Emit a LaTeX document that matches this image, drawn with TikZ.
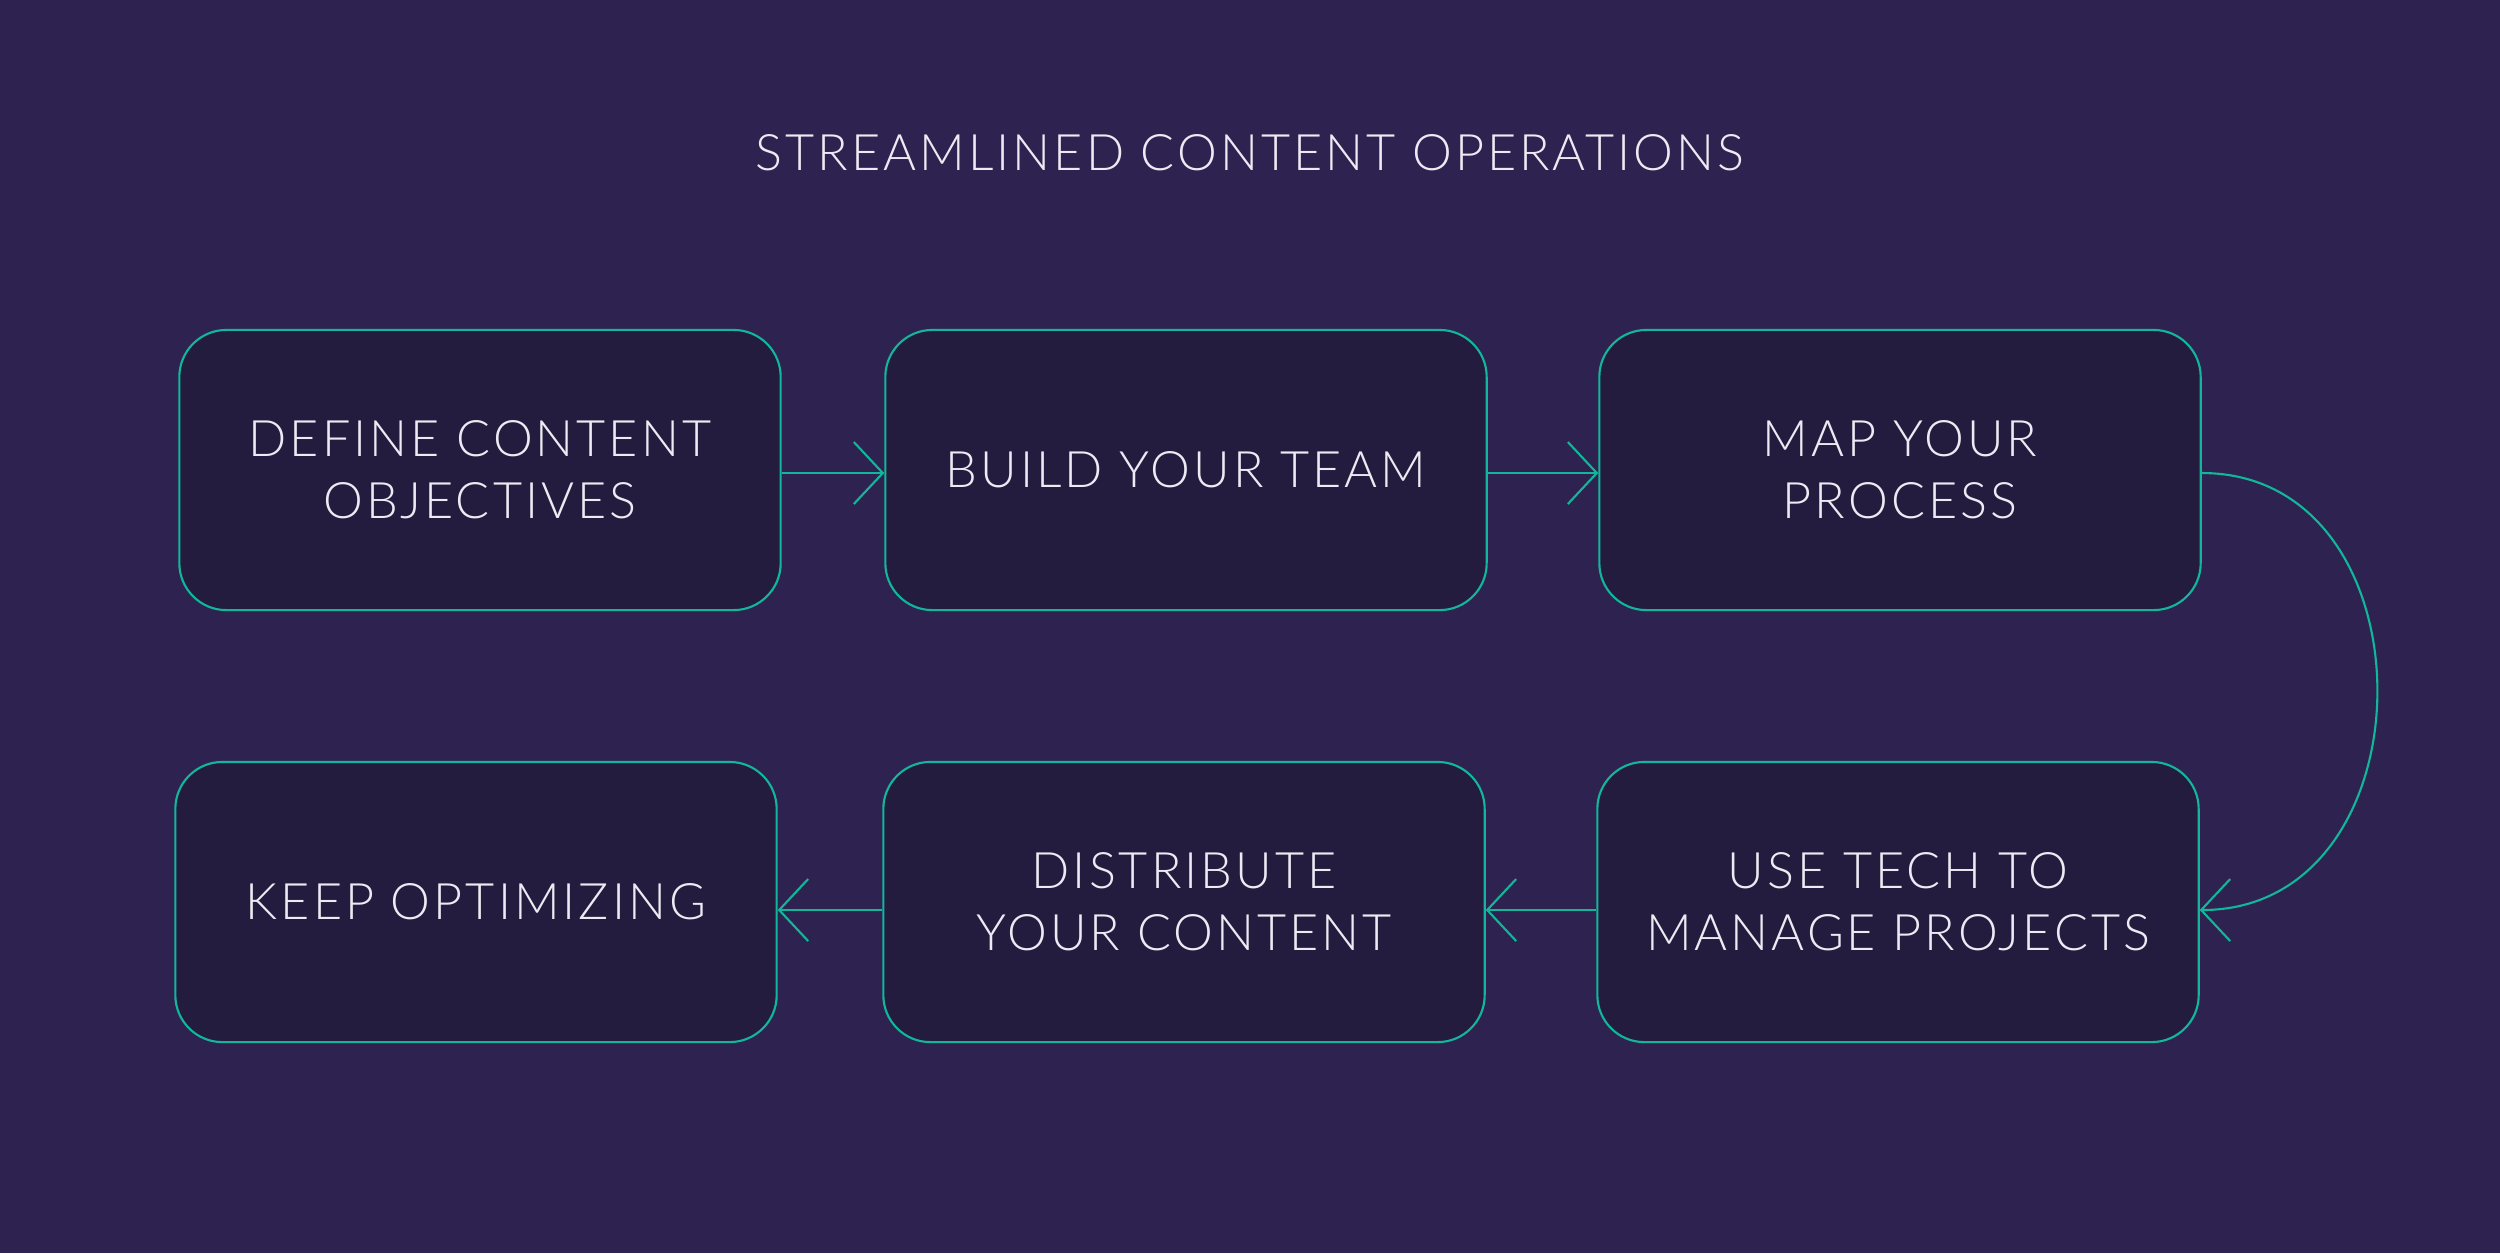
\documentclass[tikz,border=0pt]{standalone}
\usepackage{fontspec}
\newfontfamily\stagefont{Lato Light}[LetterSpace=6]
\usepackage{tikz}
\usetikzlibrary{positioning, arrows.meta}
\definecolor{bgcol}{HTML}{2E2350}
\definecolor{boxcol}{HTML}{241C3E}
\definecolor{linecol}{HTML}{12B69A}
\definecolor{txtcol}{HTML}{EEEAF3}
\tikzset{stage/.style = {rectangle, draw=linecol, fill=boxcol, line width=0.6pt, rounded corners=0.47cm,
                         minimum width=6.01cm, minimum height=2.8cm, align=center, text=txtcol,
                         font=\stagefont\fontsize{14.3}{17.6}\selectfont},
         flow/.style = {draw=linecol, line width=0.6pt, -{Straight Barb[length=0.29cm, width=0.62cm]}}}

\begin{document}
\begin{tikzpicture}[x=0.01cm, y=-0.01cm]
        \fill[bgcol] (0,0) rectangle (2500,1253);
        \useasboundingbox (0,0) rectangle (2500,1253);

        \node [text=txtcol, font=\stagefont\fontsize{14.3}{17.6}\selectfont] (title) at (1250,153) {STREAMLINED CONTENT OPERATIONS};

        \begin{scope}
            \node [stage] (objectives) at ( 480,470) {DEFINE CONTENT\\OBJECTIVES};
            \node [stage] (team)       at (1186,470) {BUILD YOUR TEAM};
            \node [stage] (process)    at (1900,470) {MAP YOUR\\PROCESS};
            \node [stage] (optimize)   at ( 476,902) {KEEP OPTIMIZING};
            \node [stage] (distribute) at (1184,902) {DISTRIBUTE\\YOUR CONTENT};
            \node [stage] (tech)       at (1898,902) {USE TECH TO\\MANAGE PROJECTS};

            \draw [flow] ([yshift=-0.03cm]objectives.east) -- ([yshift=-0.03cm]team.west);
            \draw [flow] ([yshift=-0.03cm]team.east) -- ([yshift=-0.03cm]process.west);
            \draw [flow] ([yshift=-0.03cm]process.east) .. controls +(0.235cm*10,0) and +(0.235cm*10,0) .. ([yshift=-0.08cm]tech.east);
            \draw [flow] ([yshift=-0.08cm]tech.west) -- ([yshift=-0.08cm]distribute.east);
            \draw [flow] ([yshift=-0.08cm]distribute.west) -- ([yshift=-0.08cm]optimize.east);
        \end{scope}
    \end{tikzpicture}
\end{document}
